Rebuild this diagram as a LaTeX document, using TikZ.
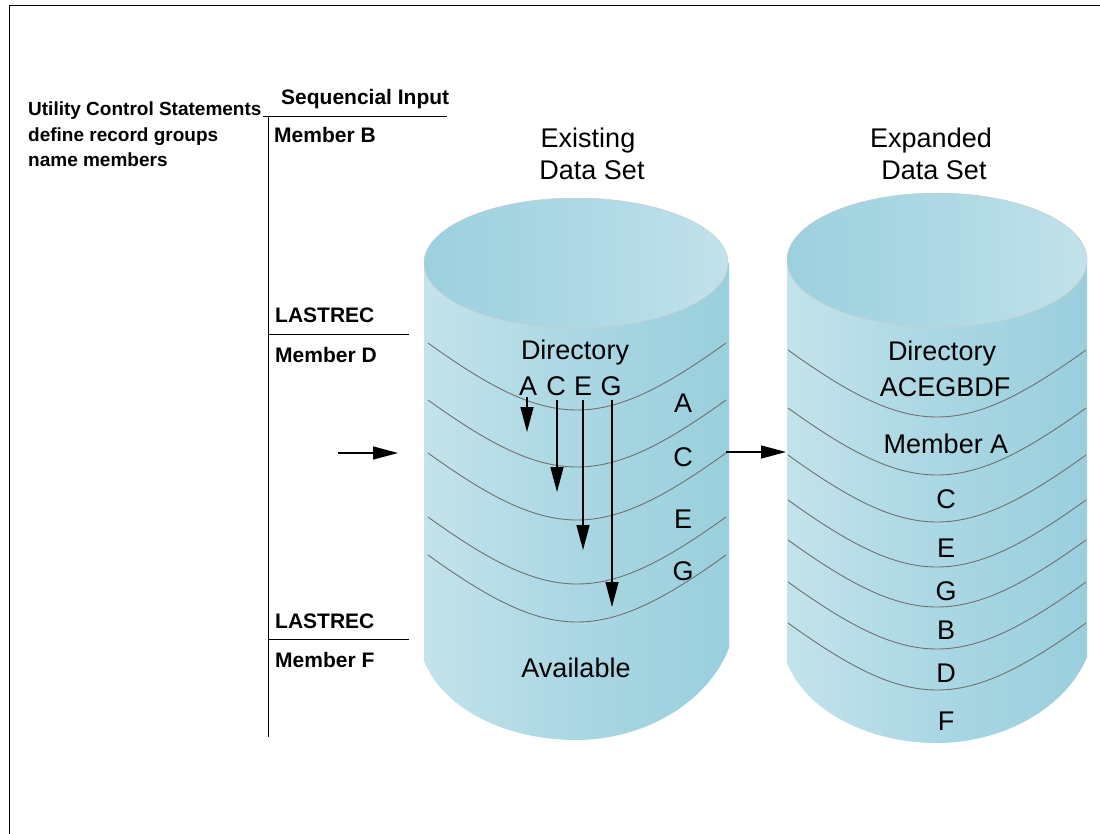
\documentclass[tikz,border=0pt]{standalone}
\usepackage{fontspec}
\setmainfont{Liberation Sans}
\usetikzlibrary{arrows.meta}

% cylinder colours
\definecolor{bodyA}{RGB}{190,223,232}
\definecolor{bodyB}{RGB}{213,235,241}
\definecolor{bodyC}{RGB}{170,215,227}
\definecolor{bodyD}{RGB}{138,199,215}
\definecolor{topA}{RGB}{140,200,217}
\definecolor{topB}{RGB}{176,218,229}
\definecolor{topC}{RGB}{216,236,242}
\definecolor{bandgray}{RGB}{112,112,112}

\pgfdeclarehorizontalshading{cylbody}{100bp}{color(0bp)=(bodyA); color(8bp)=(bodyB); color(50bp)=(bodyC); color(100bp)=(bodyD)}
\pgfdeclarehorizontalshading{cyltop}{100bp}{color(0bp)=(topA); color(55bp)=(topB); color(100bp)=(topC)}

% one partition curve across a cylinder: centre x, half width, end y, sag
\newcommand\bandcurve[4]{%
  \draw[band] ({#1-#2},#3) .. controls ({#1-#2/6},{#3+4*#4/3}) and ({#1+#2/6},{#3+4*#4/3}) .. ({#1+#2},#3);}

\begin{document}
\begin{tikzpicture}[x=1pt,y=-1pt,
  note/.style={font=\fontsize{19}{22}\selectfont\bfseries, anchor=base west, inner sep=0pt},
  lab/.style={font=\fontsize{21}{24}\selectfont\bfseries, anchor=base west, inner sep=0pt},
  big/.style={font=\fontsize{27}{30}\selectfont, anchor=base, inner sep=0pt},
  rule/.style={line width=1pt},
  band/.style={draw=bandgray, line width=0.9pt},
  ptr/.style={line width=1.4pt, -{Triangle[length=25pt,width=13pt]}}]

\useasboundingbox (0,0) rectangle (1100,834);

% frame
\draw[rule] (9,834) -- (9,6) -- (1100,6);

% control statements
\node[note] (u1) at (28,116) {Utility Control Statements};
\node[note] (u2) at (28,141.5) {define record groups};
\node[note] (u3) at (28,167) {name members};

% sequential input listing
\node[lab] (seq) at (281,105) {Sequencial Input};
\draw[rule] (263,117) -- (447,117);
\draw[rule] (268,117) -- (268,737);
\node[lab] (mb) at (274,143) {Member B};
\node[lab] (lr1) at (275,323) {LASTREC};
\draw[rule] (268,334) -- (409,334);
\node[lab] (md) at (275,362) {Member D};
\node[lab] (lr2) at (275,628) {LASTREC};
\draw[rule] (268,639) -- (409,639);
\node[lab] (mf) at (275,667) {Member F};

% titles
\node[big] (t1) at (588,148) {Existing};
\node[big] (t2) at (592,180) {Data Set};
\node[big] (t3) at (931,148) {Expanded};
\node[big] (t4) at (934,180) {Data Set};

% existing data set cylinder
\path[shading=cylbody] (424,263) -- (424,661)
  .. controls (445,712) and (510,740) .. (576,740)
  .. controls (645,740) and (708,702) .. (729,648) -- (729,263) -- cycle;
\path[shading=cyltop, draw=gray!40, line width=0.5pt] (576,263) ellipse [x radius=152pt, y radius=65pt];
\foreach \yy in {343,400,453,517,555} {\bandcurve{577}{149}{\yy}{67}}

% expanded data set cylinder
\path[shading=cylbody] (787,260) -- (787,663)
  .. controls (808,714) and (872,743) .. (937,743)
  .. controls (1003,743) and (1066,708) .. (1087,657) -- (1087,260) -- cycle;
\path[shading=cyltop, draw=gray!40, line width=0.5pt] (937,260) ellipse [x radius=150pt, y radius=67pt];
\foreach \yy in {350,408,455,500,540,582,623} {\bandcurve{937}{149}{\yy}{67}}

% existing data set contents
\node[big] (dir1) at (575,359) {Directory};
\node[big] (dA) at (528,395) {A};
\node[big] (dC) at (556,395) {C};
\node[big] (dE) at (583,395) {E};
\node[big] (dG) at (611,395) {G};
\node[big] (mA) at (683,412) {A};
\node[big] (mC) at (683,466.5) {C};
\node[big] (mE) at (683,528) {E};
\node[big] (mG) at (683,580) {G};
\node[big] (av) at (576,677) {Available};

\coordinate (pA) at (527,432);
\coordinate (pC) at (557,492);
\coordinate (pE) at (583,550);
\coordinate (pG) at (612,607);
\draw[ptr] (pA |- dA.south) ++(0,2) -- (pA);
\draw[ptr] (pC |- dC.south) ++(0,5) -- (pC);
\draw[ptr] (pE |- dE.south) ++(0,5) -- (pE);
\draw[ptr] (pG |- dG.south) ++(0,5) -- (pG);

% expanded data set contents
\node[big] (dir2) at (942,360) {Directory};
\node[big] (lst) at (945,396) {ACEGBDF};
\node[big] (xA) at (946,453) {Member A};
\node[big] (xC) at (946,508) {C};
\node[big] (xE) at (946,557) {E};
\node[big] (xG) at (946,600) {G};
\node[big] (xB) at (946,639) {B};
\node[big] (xD) at (946,682) {D};
\node[big] (xF) at (946,730) {F};

% flow arrows
\coordinate (inS) at (338,453);
\coordinate (inE) at (398,453);
\coordinate (outS) at (726,452);
\coordinate (outE) at (786,452);
\draw[ptr] (inS) -- (inE);
\draw[ptr] (outS) -- (outE);

\end{tikzpicture}
\end{document}
